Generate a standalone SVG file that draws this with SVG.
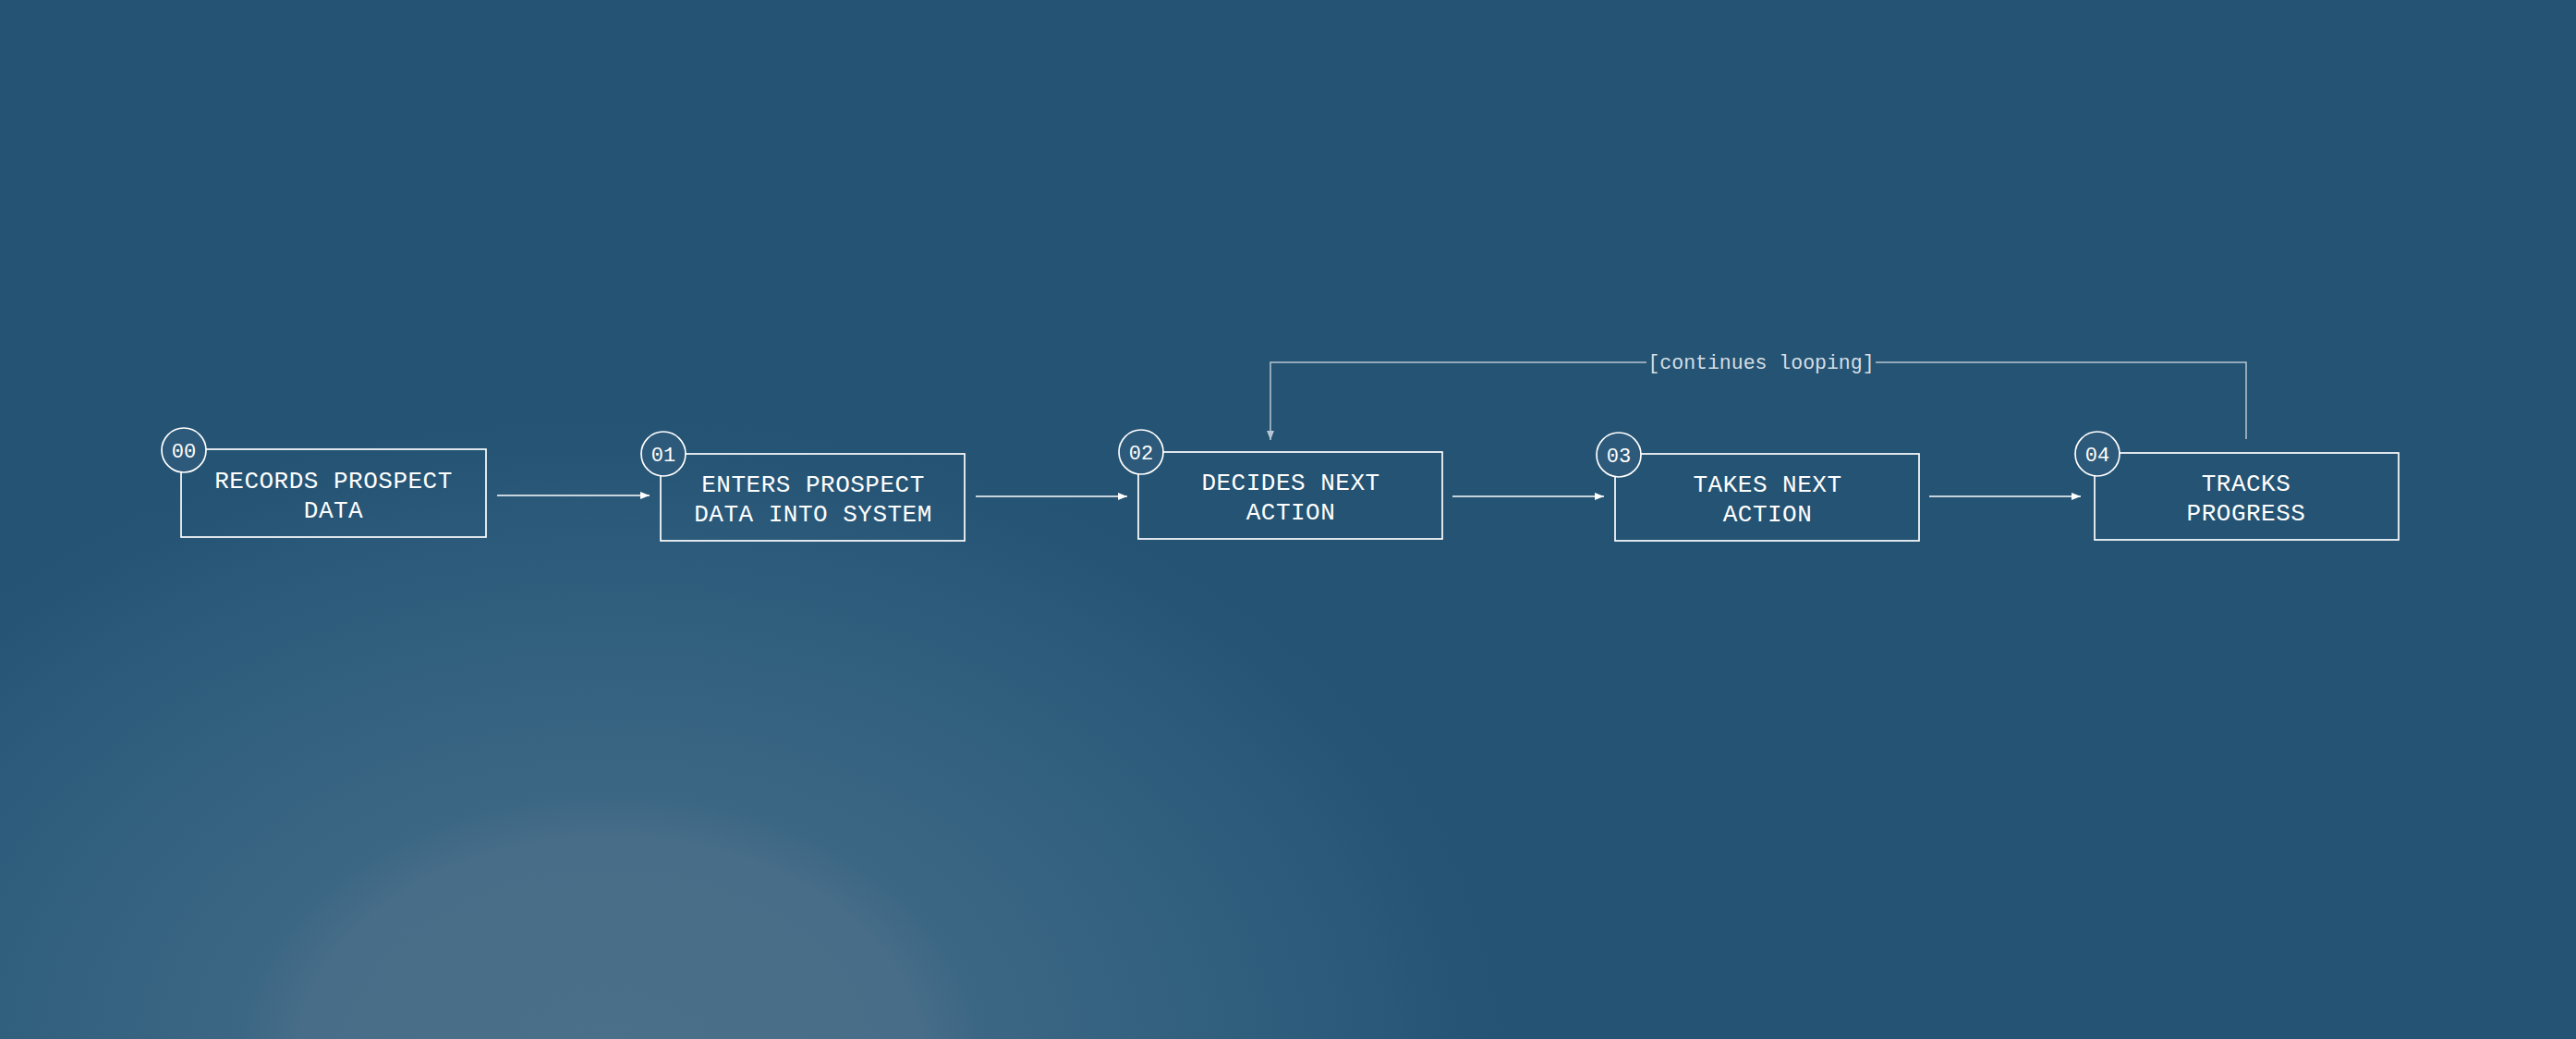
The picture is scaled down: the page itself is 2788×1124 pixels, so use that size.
<svg xmlns="http://www.w3.org/2000/svg" width="2788" height="1124" viewBox="0 0 2788 1124">
  <defs>
    <radialGradient id="glow" gradientUnits="userSpaceOnUse" cx="660" cy="1150" r="1000" gradientTransform="translate(660 1150) scale(1 0.72) translate(-660 -1150)">
      <stop offset="0" stop-color="#4b7089"/>
      <stop offset="0.34" stop-color="#476d88"/>
      <stop offset="0.40" stop-color="#3c6784"/>
      <stop offset="0.6" stop-color="#33617f"/>
      <stop offset="0.85" stop-color="#2a5879"/>
      <stop offset="1" stop-color="#245373" stop-opacity="0"/>
    </radialGradient>
    <marker id="arr" viewBox="0 0 10 10" refX="10" refY="5" markerWidth="10" markerHeight="10" markerUnits="userSpaceOnUse" orient="auto">
      <path d="M0,1 L10,5 L0,9 Z" fill="#ffffff"/>
    </marker>
    <marker id="arrLoop" viewBox="0 0 10 10" refX="10" refY="5" markerWidth="10" markerHeight="10" markerUnits="userSpaceOnUse" orient="auto">
      <path d="M0,1 L10,5 L0,9 Z" fill="#b7c6d2"/>
    </marker>
  </defs>
  <style>
    .box { fill: none; stroke: #ffffff; stroke-width: 1.7; }
    .badge { fill: #2d5a7a; stroke: #ffffff; stroke-width: 1.7; }
    .num { font-family: "Liberation Mono", "DejaVu Sans Mono", monospace; font-size: 22px; fill: #ffffff; text-anchor: middle; }
    .lbl { font-family: "Liberation Mono", "DejaVu Sans Mono", monospace; font-size: 26px; letter-spacing: 0.5px; fill: #ffffff; text-anchor: middle; }
    .edge { fill: none; stroke: #ffffff; stroke-width: 1.7; }
    .loop { fill: none; stroke: #b7c6d2; stroke-width: 1.5; }
    .loopTxt { font-family: "Liberation Mono", "DejaVu Sans Mono", monospace; font-size: 21.5px; fill: #d4dee6; text-anchor: middle; }
  </style>
  <rect x="0" y="0" width="2788" height="1124" fill="#245373"/>
  <rect x="0" y="0" width="2788" height="1124" fill="url(#glow)"/>

  <g id="connectors">
    <line class="edge" x1="538" y1="536" x2="703" y2="536" marker-end="url(#arr)"/>
    <line class="edge" x1="1056" y1="537" x2="1220" y2="537" marker-end="url(#arr)"/>
    <line class="edge" x1="1572" y1="537" x2="1736" y2="537" marker-end="url(#arr)"/>
    <line class="edge" x1="2088" y1="537" x2="2252" y2="537" marker-end="url(#arr)"/>
    <g id="loop">
      <path class="loop" d="M2431,475 L2431,392 L2030,392"/>
      <path class="loop" d="M1782,392 L1375,392 L1375,476" marker-end="url(#arrLoop)"/>
      <text class="loopTxt" x="1906" y="399">[continues looping]</text>
    </g>
  </g>

  <g id="node-00">
    <rect class="box" x="196" y="486" width="330" height="95"/>
    <circle class="badge" cx="199" cy="487" r="24"/>
    <text class="num" x="199" y="495">00</text>
    <text class="lbl" x="361" y="528">RECORDS PROSPECT</text>
    <text class="lbl" x="361" y="560">DATA</text>
  </g>
  <g id="node-01">
    <rect class="box" x="715" y="491" width="329" height="94"/>
    <circle class="badge" cx="718" cy="491" r="24"/>
    <text class="num" x="718" y="499">01</text>
    <text class="lbl" x="880" y="532">ENTERS PROSPECT</text>
    <text class="lbl" x="880" y="564">DATA INTO SYSTEM</text>
  </g>
  <g id="node-02">
    <rect class="box" x="1232" y="489" width="329" height="94"/>
    <circle class="badge" cx="1235" cy="489" r="24"/>
    <text class="num" x="1235" y="497">02</text>
    <text class="lbl" x="1397" y="530">DECIDES NEXT</text>
    <text class="lbl" x="1397" y="562">ACTION</text>
  </g>
  <g id="node-03">
    <rect class="box" x="1748" y="491" width="329" height="94"/>
    <circle class="badge" cx="1752" cy="492" r="24"/>
    <text class="num" x="1752" y="500">03</text>
    <text class="lbl" x="1913" y="532">TAKES NEXT</text>
    <text class="lbl" x="1913" y="564">ACTION</text>
  </g>
  <g id="node-04">
    <rect class="box" x="2267" y="490" width="329" height="94"/>
    <circle class="badge" cx="2270" cy="491" r="24"/>
    <text class="num" x="2270" y="499">04</text>
    <text class="lbl" x="2431" y="531">TRACKS</text>
    <text class="lbl" x="2431" y="563">PROGRESS</text>
  </g>
</svg>
